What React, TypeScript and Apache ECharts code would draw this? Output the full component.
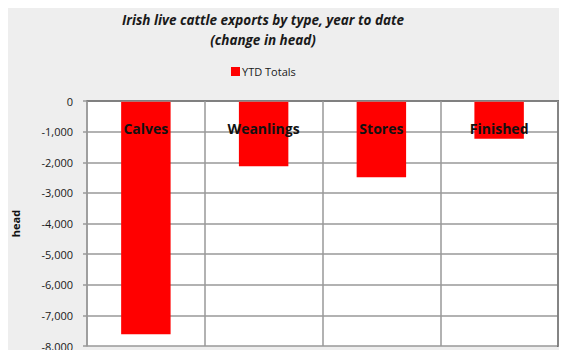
import React, { useEffect, useRef } from "react";
import * as echarts from "echarts";

const categories = ["Calves", "Weanlings", "Stores", "Finished"];
const ytdTotals = [-7620, -2130, -2490, -1230];
const seriesName = "YTD Totals";
const titleLines = ["Irish live cattle exports by type, year to date", "(change in head)"];
const yAxisName = "head";

export default function App() {
  const ref = useRef<HTMLDivElement>(null);
  useEffect(() => {
    if (!ref.current) return;
    const chart = echarts.init(ref.current, undefined, { renderer: "svg" });
    const font = "'Open Sans', 'Liberation Sans', sans-serif";
    chart.setOption({
      animation: false,
      backgroundColor: "#eeeeee",
      title: {
        text: titleLines.join("\n"),
        left: 258,
        textAlign: "center",
        top: 5,
        textStyle: {
          fontFamily: font,
          fontSize: 13.5,
          fontStyle: "italic",
          fontWeight: "bold",
          color: "#1a1a1a",
          lineHeight: 20,
        },
      },
      legend: {
        data: [seriesName],
        left: 226,
        top: 61,
        itemWidth: 9,
        itemHeight: 9,
        itemGap: 2,
        icon: "rect",
        textStyle: { fontFamily: font, fontSize: 11, color: "#1a1a1a", padding: [0, 0, 0, -3] },
      },
      grid: {
        left: 87,
        right: 9,
        top: 101,
        bottom: 12,
        show: true,
        backgroundColor: "#ffffff",
        borderWidth: 0,
      },
      xAxis: [
        {
          type: "category",
          data: categories,
          position: "top",
          axisLine: { show: true, lineStyle: { color: "#999999", width: 1.5 } },
          axisTick: { show: false },
          splitLine: { show: true, lineStyle: { color: "#999999", width: 1.5 } },
          axisLabel: {
            inside: true,
            margin: 20,
            fontFamily: font,
            fontSize: 14,
            fontWeight: "bold",
            color: "#111111",
          },
          z: 5,
        },
        {
          type: "category",
          data: categories,
          position: "bottom",
          axisLine: { show: true, lineStyle: { color: "#111111", width: 1.5 } },
          axisTick: { show: false },
          axisLabel: { show: false },
          splitLine: { show: false },
        },
      ],
      yAxis: [
        {
          type: "value",
          min: -8000,
          max: 0,
          interval: 1000,
          name: yAxisName,
          nameLocation: "middle",
          nameGap: 66,
          nameRotate: 90,
          nameTextStyle: { fontFamily: font, fontSize: 11, fontWeight: "bold", color: "#111111" },
          axisLine: { show: true, lineStyle: { color: "#999999", width: 1.5 } },
          axisTick: { show: true, length: 4, lineStyle: { color: "#999999", width: 1.5 } },
          splitLine: { show: true, lineStyle: { color: "#999999", width: 1.5 } },
          axisLabel: {
            margin: 14,
            fontFamily: font,
            fontSize: 11,
            color: "#1a1a1a",
            formatter: (v: number) => v.toLocaleString("en-US"),
          },
        },
        {
          type: "value",
          min: -8000,
          max: 0,
          interval: 1000,
          position: "right",
          axisLine: { show: true, lineStyle: { color: "#111111", width: 1.5 } },
          axisTick: { show: false },
          axisLabel: { show: false },
          splitLine: { show: false },
        },
      ],
      series: [
        {
          name: seriesName,
          type: "bar",
          data: ytdTotals,
          barWidth: "42%",
          itemStyle: { color: "#ff0000" },
          z: 2,
        },
      ],
    });
    return () => chart.dispose();
  }, []);
  return <div ref={ref} style={{ width: 567, height: 358, margin: -8 }} />;
}
